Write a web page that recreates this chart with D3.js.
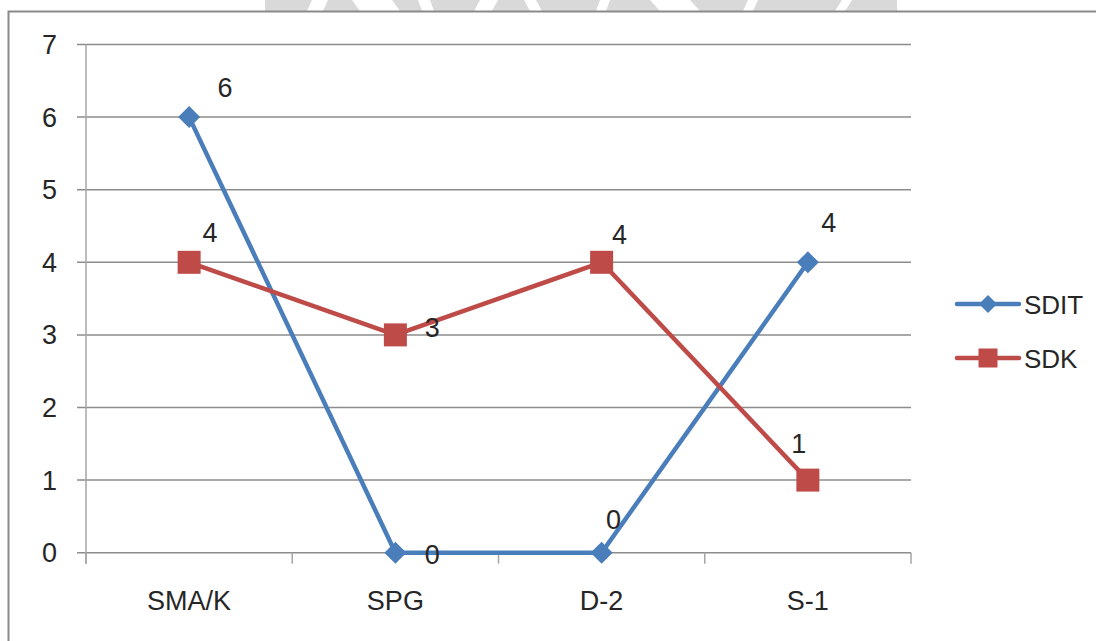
<!DOCTYPE html>
<html><head><meta charset="utf-8">
<script src="https://cdn.jsdelivr.net/npm/d3@7"></script>
<style>
html,body{margin:0;padding:0;background:#fff;}
svg{display:block;}
text{font-family:"Liberation Sans",Arial,sans-serif;fill:#262626;}
</style></head>
<body><svg id="c" width="1096" height="641"></svg>
<script>
const categories = ["SMA/K","SPG","D-2","S-1"];
const sditValues = [6,0,0,4];
const sdkValues = [4,3,4,1];
const yTicks = [0,1,2,3,4,5,6,7];
const seriesNames = ["SDIT","SDK"];
// label offsets (px) relative to each point: [dx, baseline dy]
const sditLabelOffsets = [[36,-20],[37,11],[12,-24],[21,-30]];
const sdkLabelOffsets = [[21,-20],[37,2],[18,-18],[-9,-27]];

const svg = d3.select("#c");
const blue = "#4a7ebb", red = "#be4b48";

// watermark remnant at top
const wm = svg.append("g");
wm.append("rect").attr("x",265).attr("y",0).attr("width",632).attr("height",11).attr("fill","#d9d9d9");
const gaps = [[312,328,-5],[352,392,8],[418,430,4],[480,498,-6],[524,536,6],[600,610,-4],[650,690,10],[748,758,-5],[842,852,-7]];
gaps.forEach(g=>{
  wm.append("polygon").attr("points",`${g[0]},0 ${g[1]},0 ${g[1]+g[2]},11 ${g[0]+g[2]},11`).attr("fill","#fff");
});

// outer border
svg.append("path").attr("d","M8.5,641 V11.5 H1096").attr("fill","none").attr("stroke","#8a8a8a").attr("stroke-width",2);

const x = d3.scaleBand().domain(categories).range([86,911]).paddingInner(0).paddingOuter(0);
const cx = c => x(c) + x.bandwidth()/2;
const y = d3.scaleLinear().domain([0,7]).range([552.7,44.5]);

// gridlines
svg.append("g").selectAll("line").data(yTicks).join("line")
  .attr("x1",77).attr("x2",911).attr("y1",d=>y(d)).attr("y2",d=>y(d))
  .attr("stroke","#8c8c8c").attr("stroke-width",1.5);

// y axis line
svg.append("line").attr("x1",86).attr("x2",86).attr("y1",y(7)).attr("y2",y(0)+11)
  .attr("stroke","#a6a6a6").attr("stroke-width",1.5);

// x ticks
const xt = categories.map(c=>x(c)).concat([911]);
svg.append("g").selectAll("line").data(xt).join("line")
  .attr("x1",d=>d).attr("x2",d=>d).attr("y1",y(0)).attr("y2",y(0)+11)
  .attr("stroke","#a6a6a6").attr("stroke-width",1.5);

// y labels
svg.append("g").selectAll("text").data(yTicks).join("text")
  .attr("x",57).attr("y",d=>y(d)+9.5).attr("text-anchor","end")
  .attr("font-size",27).text(d=>d);

// x labels
svg.append("g").selectAll("text").data(categories).join("text")
  .attr("x",d=>cx(d)).attr("y",610).attr("text-anchor","middle")
  .attr("font-size",27).text(d=>d);

const line = d3.line().x((d,i)=>cx(categories[i])).y(d=>y(d));

svg.append("path").datum(sditValues).attr("d",line).attr("fill","none")
  .attr("stroke",blue).attr("stroke-width",4.5).attr("stroke-linejoin","round");
svg.append("path").datum(sdkValues).attr("d",line).attr("fill","none")
  .attr("stroke",red).attr("stroke-width",4.5).attr("stroke-linejoin","round");

const diamond = (px,py,r)=>`M${px},${py-r} L${px+r},${py} L${px},${py+r} L${px-r},${py} Z`;

svg.append("g").selectAll("path").data(sditValues).join("path")
  .attr("d",(d,i)=>diamond(cx(categories[i]),y(d),11)).attr("fill",blue);
svg.append("g").selectAll("rect").data(sdkValues).join("rect")
  .attr("x",(d,i)=>cx(categories[i])-11.5).attr("y",d=>y(d)-11.5)
  .attr("width",23).attr("height",23).attr("fill",red);

// data labels
svg.append("g").selectAll("text").data(sditValues).join("text")
  .attr("x",(d,i)=>cx(categories[i])+sditLabelOffsets[i][0])
  .attr("y",(d,i)=>y(d)+sditLabelOffsets[i][1])
  .attr("text-anchor","middle").attr("font-size",27).text(d=>d);
svg.append("g").selectAll("text").data(sdkValues).join("text")
  .attr("x",(d,i)=>cx(categories[i])+sdkLabelOffsets[i][0])
  .attr("y",(d,i)=>y(d)+sdkLabelOffsets[i][1])
  .attr("text-anchor","middle").attr("font-size",27).text(d=>d);

// legend
const lg = svg.append("g");
const ly = [304,358];
const lc = [blue,red];
seriesNames.forEach((n,i)=>{
  lg.append("line").attr("x1",957).attr("x2",1019).attr("y1",ly[i]).attr("y2",ly[i])
    .attr("stroke",lc[i]).attr("stroke-width",4.5).attr("stroke-linecap","round");
  if(i===0) lg.append("path").attr("d",diamond(988,ly[i],9)).attr("fill",blue);
  else lg.append("rect").attr("x",978.5).attr("y",ly[i]-9.5).attr("width",19).attr("height",19).attr("fill",red);
  lg.append("text").attr("x",1024).attr("y",ly[i]+9.5).attr("font-size",26).text(n);
});
</script></body></html>
